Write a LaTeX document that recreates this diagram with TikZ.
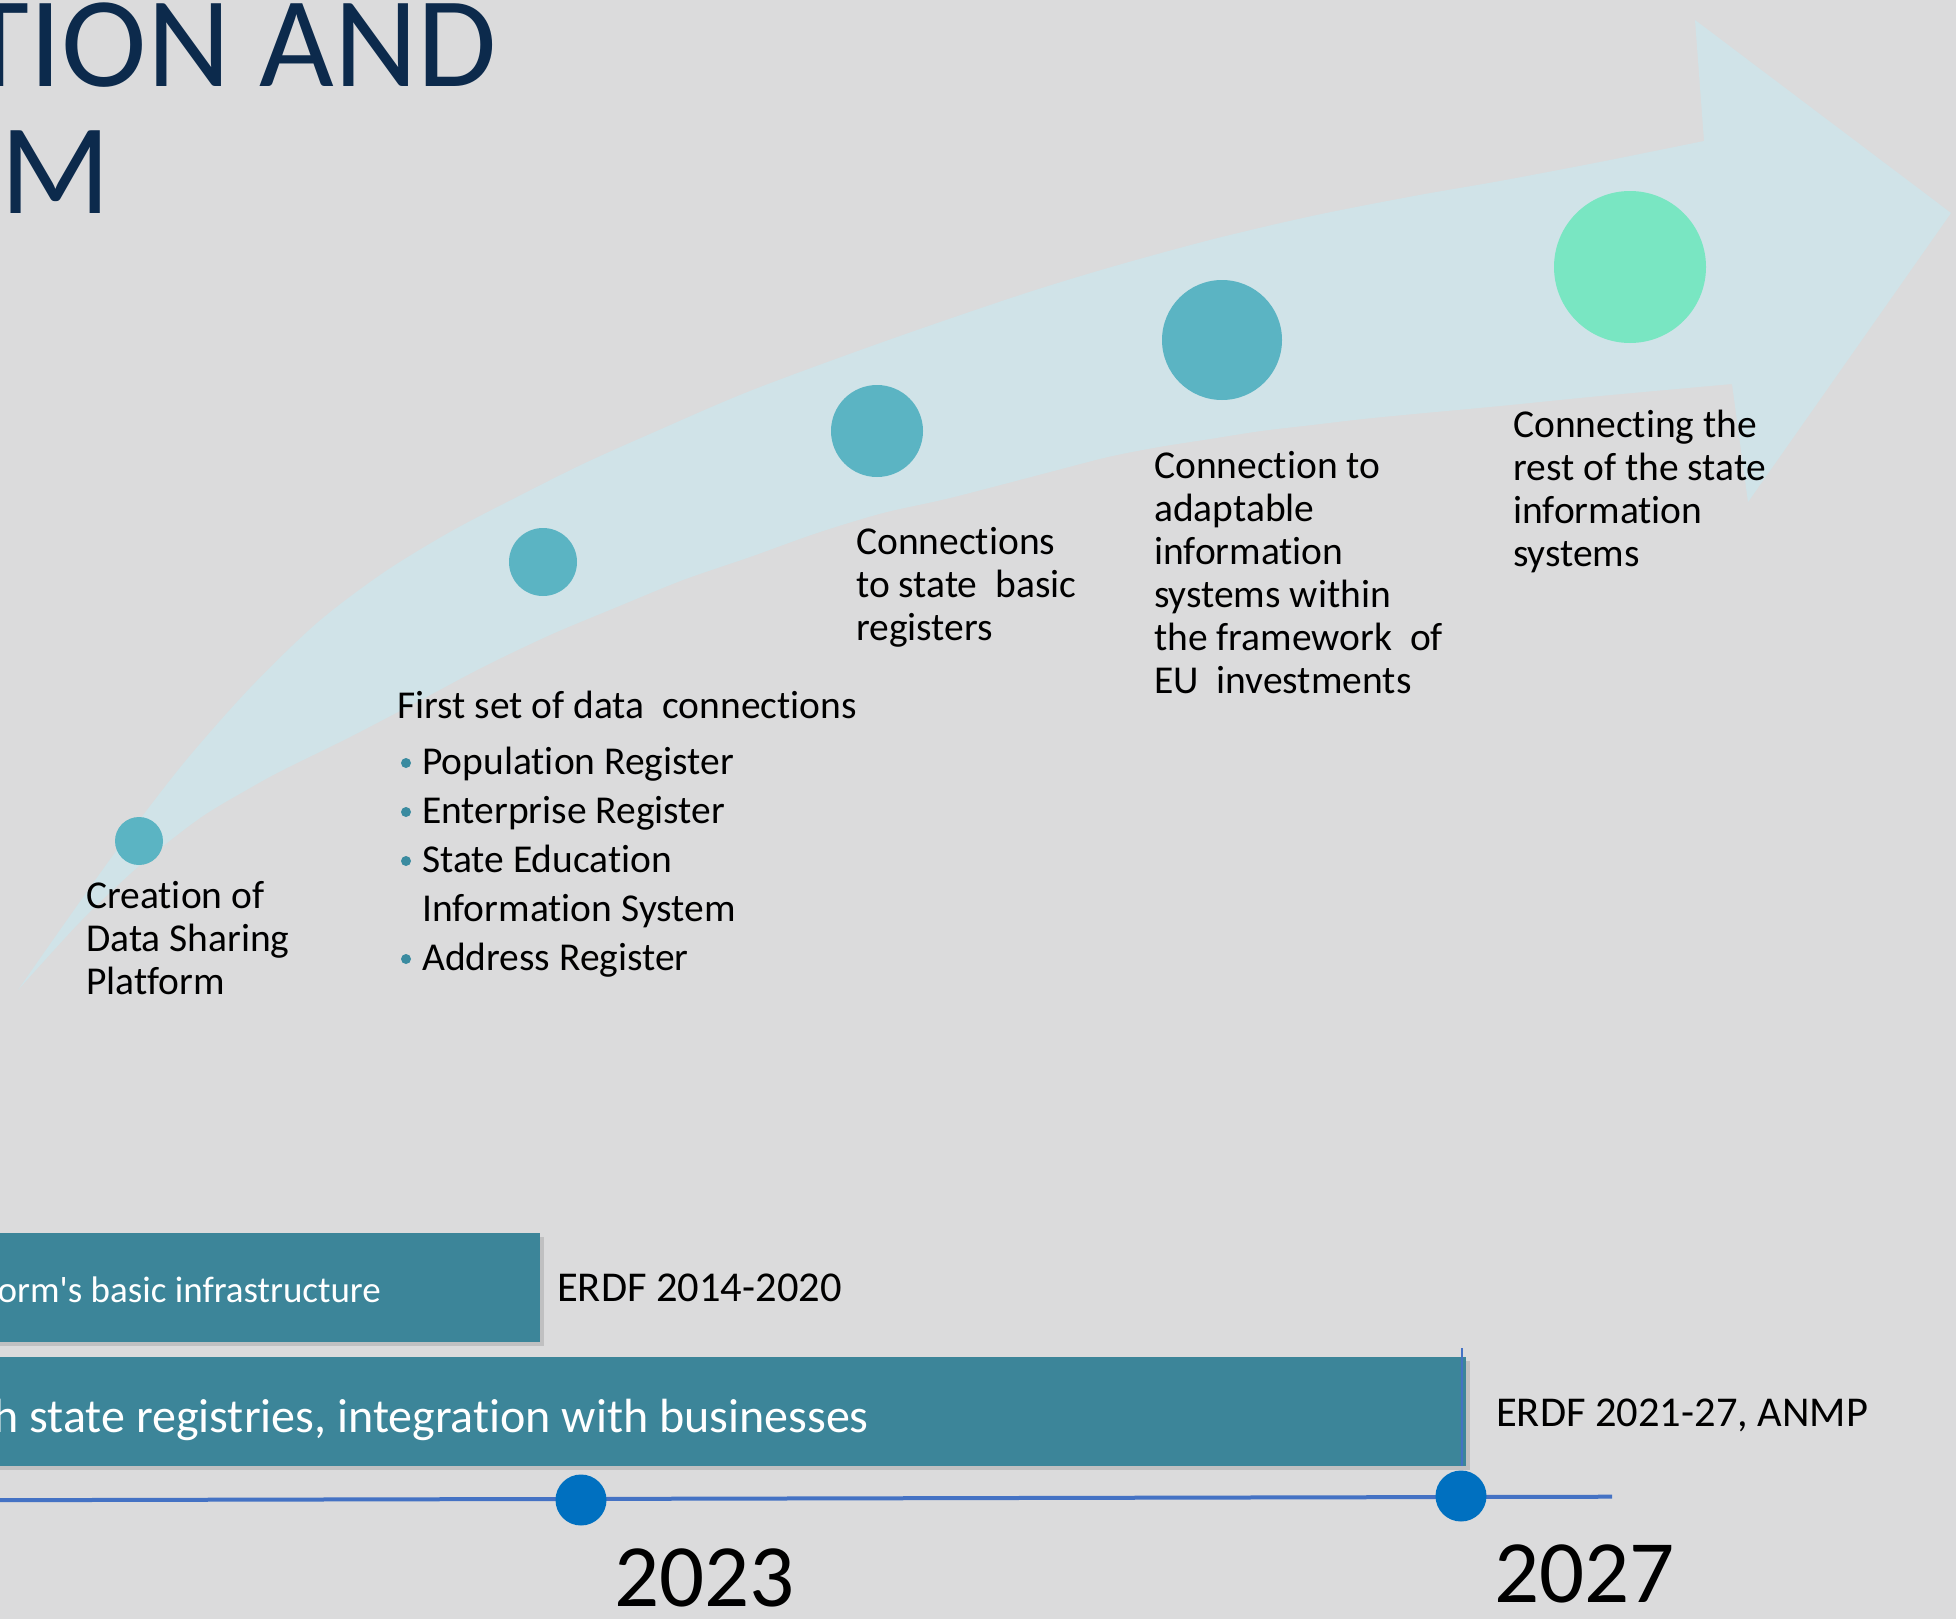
\documentclass[tikz,border=0pt]{standalone}
\usepackage{fontspec}
\setmainfont{Carlito}[Ligatures={NoCommon,TeXOff}]
\definecolor{bg}{HTML}{DBDBDC}
\definecolor{arrowc}{HTML}{D0E3E8}
\definecolor{teal}{HTML}{5BB4C3}
\definecolor{mint}{HTML}{79E6C2}
\definecolor{barc}{HTML}{3C8599}
\definecolor{linec}{HTML}{4472C4}
\definecolor{dotc}{HTML}{0070C0}
\definecolor{navy}{HTML}{0C2A4C}
\definecolor{bulc}{HTML}{3A8BA0}
\begin{document}
\begin{tikzpicture}[x=1pt,y=-1pt,
  stage/.style={circle, inner sep=0, fill=teal},
  blk/.style={anchor=base west, inner sep=0, font=\fontsize{39.5}{43}\selectfont},
  item/.style={anchor=base west, inner sep=0, font=\fontsize{39.5}{49}\selectfont},
  bulletdot/.style={circle, inner sep=0, minimum size=10, fill=bulc},
  bar/.style={rectangle, inner sep=0, fill=barc},
  fund/.style={anchor=base west, inner sep=0, font=\fontsize{42.5}{50}\selectfont},
  year/.style={anchor=base west, inner sep=0, font=\fontsize{89}{100}\selectfont},
  tdot/.style={circle, inner sep=0, minimum size=51, fill=dotc}]
\useasboundingbox (0,0) rectangle (1956,1619);
\clip (0,0) rectangle (1956,1619);
\fill[bg] (0,0) rectangle (1956,1619);

% title
\node[anchor=base east, inner sep=0, text=navy, font=\fontsize{129}{150}\selectfont] (title1) at (497,86) {TION AND};
\node[anchor=base west, inner sep=0, text=navy, font=\fontsize{129}{150}\selectfont] (title2) at (0,213) {M};

% curved arrow
\fill[arrowc] plot[smooth, tension=0.5] coordinates {(18,990) (60,930) (117,850) (183,764) (250,688) (317,623) (383,573) (450,532) (517,497) (583,464) (650,434) (750,391) (883,342) (1017,296) (1108,268) (1210,240) (1312,216) (1414,196) (1500,181) (1600,162) (1704,141)}
  -- (1695,20) -- (1951,213) -- (1748,502) -- (1732,384)
  -- plot[smooth, tension=0.5] coordinates {(1732,384) (1600,396) (1500,406) (1414,414) (1363,419) (1312,425) (1261,431) (1210,439) (1159,447) (1108,457) (1050,472) (950,498) (883,513) (817,533) (750,557) (683,580) (617,607) (550,635) (483,667) (417,702) (350,737) (283,770) (250,788) (200,818) (139,866) (80,922) (18,990)} -- cycle;

% stage circles
\node[stage, minimum size=48] (c1) at (139,841) {};
\node[stage, minimum size=68] (c2) at (543,562) {};
\node[stage, minimum size=92] (c3) at (877,431) {};
\node[stage, minimum size=120] (c4) at (1222,340) {};
\node[stage, fill=mint, minimum size=152] (c5) at (1630,267) {};

% stage texts
\node[blk] (t1) at (86,908) {\vtop{\hbox{Creation of}\hbox{Data Sharing}\hbox{Platform}}};
\node[blk] (t2) at (397,718) {First set of data\ \ connections};
\node[item] (i1) at (422,774) {Population Register};
\node[item] (i2) at (422,823) {Enterprise Register};
\node[item] (i3) at (422,872) {\vtop{\hbox{State Education}\hbox{Information System}}};
\node[item] (i4) at (422,970) {Address Register};
\node[bulletdot] (b1) at (406,763) {};
\node[bulletdot] (b2) at (406,812) {};
\node[bulletdot] (b3) at (406,861) {};
\node[bulletdot] (b4) at (406,959) {};
\node[blk] (t3) at (856,554) {\vtop{\hbox{Connections}\hbox{to state\ \ basic}\hbox{registers}}};
\node[blk] (t4) at (1154,478) {\vtop{\hbox{Connection to}\hbox{adaptable}\hbox{information}\hbox{systems within}\hbox{the framework\ \ of}\hbox{EU\ \ investments}}};
\node[blk] (t5) at (1513,437.5) {\vtop{\hbox{Connecting the}\hbox{rest of the state}\hbox{information}\hbox{systems}}};

% bars
\fill[black, opacity=0.12] (-200,1237) rectangle (544,1346);
\fill[black, opacity=0.12] (-200,1361) rectangle (1470,1470);
\node[bar, minimum width=740, minimum height=109] (bar1) at (170,1287.5) {};
\node[bar, minimum width=1666, minimum height=109] (bar2) at (633,1411.5) {};
\node[anchor=base east, inner sep=0, text=white, font=\fontsize{37}{44}\selectfont] (bt1) at (381,1302) {orm's basic infrastructure};
\node[anchor=base east, inner sep=0, text=white, font=\fontsize{48}{56}\selectfont] (bt2) at (869,1432) {h state registries, integration with businesses};
\node[fund] (f1) at (557,1301) {ERDF 2014-2020};
\node[fund] (f2) at (1496,1426) {ERDF 2021-27, ANMP};
\coordinate (vt) at (1462,1348);
\coordinate (vb) at (1462,1466);
\draw[linec, line width=2] (vt) -- (vb);

% timeline
\coordinate (tl0) at (-10,1500.2);
\coordinate (tl1) at (1612,1496.7);
\draw[linec, line width=4] (tl0) -- (tl1);
\node[tdot] (d1) at (581,1500) {};
\node[tdot] (d2) at (1461,1496) {};
\node[year] (y1) at (614,1606) {2023};
\node[year] (y2) at (1494,1602) {2027};
\end{tikzpicture}
\end{document}
